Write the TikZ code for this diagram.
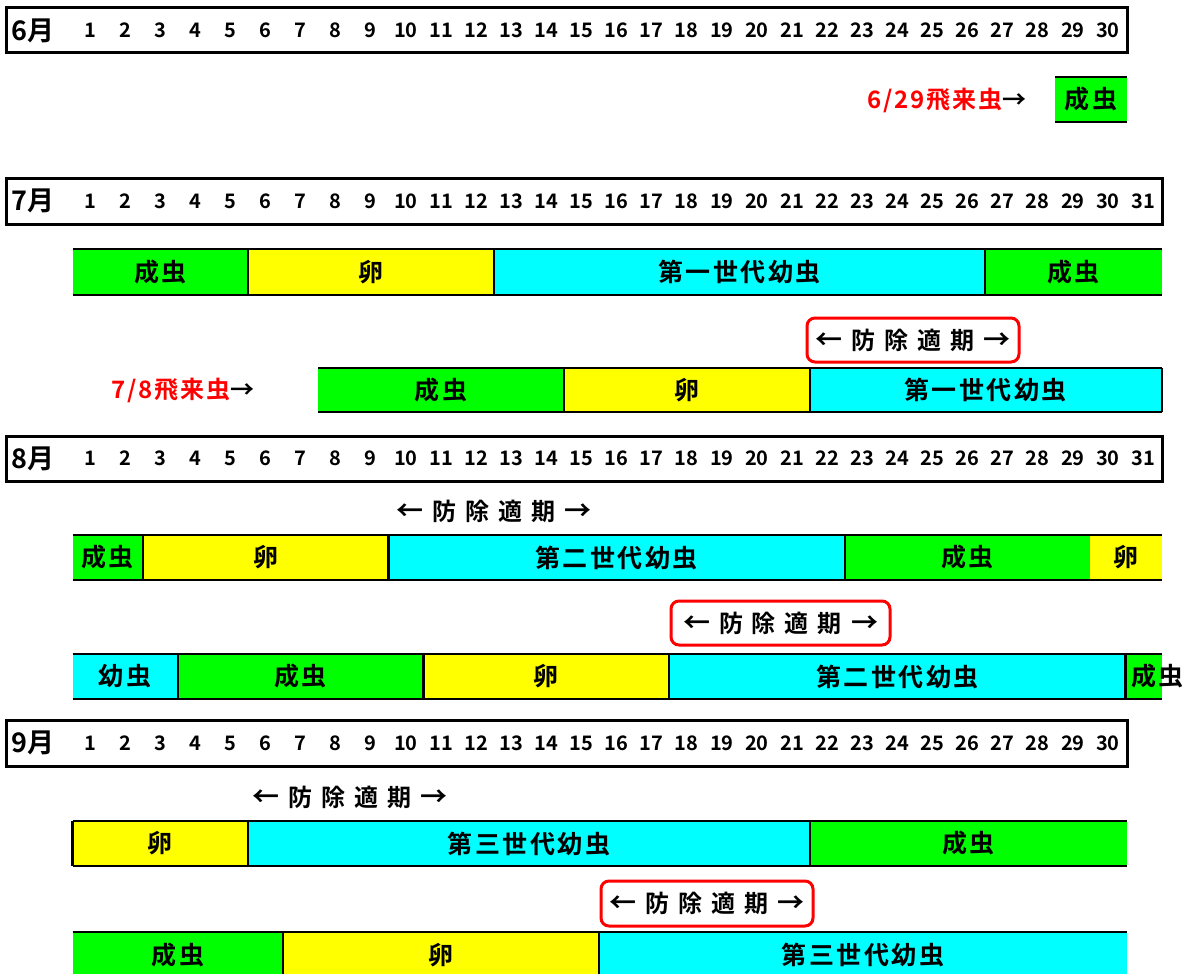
\documentclass[tikz,border=0pt]{standalone}
\usepackage{fontspec}
\setmainfont{Noto Sans CJK JP}[BoldFont={Noto Sans CJK JP Bold}]
\definecolor{adult}{HTML}{00FF00}
\definecolor{egg}{HTML}{FFFF00}
\definecolor{larva}{HTML}{00FFFF}
\definecolor{alert}{HTML}{FF0000}

% x position of the left edge of a day column
\newcommand\dayedge[1]{(72.5+(#1-1)*35.1)}

% one coloured stage cell: name, top, bottom, first day, end day, colour, text
\newcommand\stagecell[7]{%
  \pgfmathsetmacro\cxa{\dayedge{#4}}%
  \pgfmathsetmacro\cxb{\dayedge{#5}}%
  \fill[#6] (\cxa,#2) rectangle (\cxb,#3);
  \node[stagelbl] (#1) at ({(\cxa+\cxb)/2},{(#2+#3)/2}) {#7};
}
% top and bottom rules of a stage bar: top, bottom, first day, end day
\newcommand\barrules[4]{%
  \pgfmathsetmacro\cxa{\dayedge{#3}}%
  \pgfmathsetmacro\cxb{\dayedge{#4}}%
  \draw[rule] (\cxa,#1) -- (\cxb,#1);
  \draw[rule] (\cxa,#2) -- (\cxb,#2);
}
% vertical divider at the start of a day: top, bottom, day
\newcommand\stagesep[3]{%
  \pgfmathsetmacro\cxa{\dayedge{#3}}%
  \draw[divider] (\cxa,#1) -- (\cxa,#2);
}
% month header strip: name, top, bottom, right edge, month, number of days
\newcommand\monthstrip[6]{%
  \draw[frame] (6,#2) rectangle (#4,#3);
  \node[monthlbl] (#1) at (11,{(#2+#3)/2}) {#5月};
  \foreach \d in {1,...,#6}
    \node[daynum] (#1d\d) at ({90+(\d-1)*35.1},{(#2+#3)/2}) {\d};
}
\newcommand\periodtext{{\fontsize{27}{27}\selectfont←}\hspace{9pt}防\hspace{9pt}除\hspace{9pt}適\hspace{9pt}期\hspace{9pt}{\fontsize{27}{27}\selectfont→}}

\tikzset{
  frame/.style={line width=3pt},
  rule/.style={line width=2.6pt},
  divider/.style={line width=2.2pt},
  daynum/.style={font=\bfseries\fontsize{20}{20}\selectfont, inner sep=0pt},
  monthlbl/.style={font=\bfseries\fontsize{27}{27}\selectfont, anchor=west, inner sep=0pt},
  stagelbl/.style={font=\bfseries\fontsize{25}{25}\selectfont\addfontfeature{LetterSpace=10}, inner sep=0pt},
  periodlbl/.style={font=\bfseries\fontsize{24}{24}\selectfont, inner sep=0pt},
  periodbox/.style={periodlbl, draw=alert, line width=3pt, rounded corners=8pt,
    inner sep=0pt},
  arrival/.style={font=\bfseries\fontsize{24}{24}\selectfont\addfontfeature{LetterSpace=8},
    inner sep=0pt, anchor=east},
}

\begin{document}
\begin{tikzpicture}[x=1pt,y=-1pt]
\useasboundingbox (0,0) rectangle (1186,974);

% ---------------- June ----------------
\monthstrip{jun}{8}{53}{1127}{6}{30}
\stagecell{junA}{77}{122}{29}{31.04}{adult}{成虫}
\barrules{77}{122}{29}{31.04}
\node[arrival] (junArr) at (1027,100) {\textcolor{alert}{6/29飛来虫}→};

% ---------------- July ----------------
\monthstrip{jul}{178}{224}{1162}{7}{31}
% first brood line
\stagecell{julA1}{249}{295}{1}{6}{adult}{成虫}
\stagecell{julE1}{249}{295}{6}{13}{egg}{卵}
\stagecell{julL1}{249}{295}{13}{27}{larva}{第一世代幼虫}
\stagecell{julA2}{249}{295}{27}{32.03}{adult}{成虫}
\barrules{249}{295}{1}{32.03}
\stagesep{249}{295}{6}
\stagesep{249}{295}{13}
\stagesep{249}{295}{27}
\node[periodbox, minimum width=212, minimum height=44] (julP) at (913,340) {\periodtext};
% second arrival line
\node[arrival] (julArr) at (255,390) {\textcolor{alert}{7/8飛来虫}→};
\stagecell{julB1}{368}{412}{8}{15}{adult}{成虫}
\stagecell{julB2}{368}{412}{15}{22}{egg}{卵}
\stagecell{julB3}{368}{412}{22}{32.03}{larva}{第一世代幼虫}
\barrules{368}{412}{8}{32.03}
\stagesep{368}{412}{15}
\stagesep{368}{412}{22}
\stagesep{368}{412}{32.03}

% ---------------- August ----------------
\monthstrip{aug}{436}{481}{1162}{8}{31}
\node[periodlbl] (augP1) at (494,511) {\periodtext};
\stagecell{augA1}{535}{580}{1}{3}{adult}{成虫}
\stagecell{augE1}{535}{580}{3}{10}{egg}{卵}
\stagecell{augL1}{535}{580}{10}{23}{larva}{第二世代幼虫}
\stagecell{augA2}{535}{580}{23}{30}{adult}{成虫}
\stagecell{augE2}{535}{580}{30}{32.03}{egg}{卵}
\barrules{535}{580}{1}{32.03}
\stagesep{535}{580}{3}
\stagesep{535}{580}{10}
\stagesep{535}{580}{23}
\node[periodbox, minimum width=219, minimum height=44] (augP2) at (780.5,623) {\periodtext};
\stagecell{augB1}{654}{699}{1}{4}{larva}{幼虫}
\stagecell{augB2}{654}{699}{4}{11}{adult}{成虫}
\stagecell{augB3}{654}{699}{11}{18}{egg}{卵}
\stagecell{augB4}{654}{699}{18}{31}{larva}{第二世代幼虫}
\pgfmathsetmacro\cxa{\dayedge{31}}
\fill[adult] (\cxa,654) rectangle ({\dayedge{32.03}},699);
\node[stagelbl, anchor=west] (augB5) at (1131,676.5) {成虫};
\barrules{654}{699}{1}{32.03}
\stagesep{654}{699}{4}
\stagesep{654}{699}{11}
\stagesep{654}{699}{18}
\stagesep{654}{699}{31}

% ---------------- September ----------------
\monthstrip{sep}{720}{766}{1127}{9}{30}
\node[periodlbl] (sepP1) at (350,797) {\periodtext};
\stagecell{sepA1}{821}{866}{1}{6}{egg}{卵}
\stagecell{sepL1}{821}{866}{6}{22}{larva}{第三世代幼虫}
\stagecell{sepA2}{821}{866}{22}{31.04}{adult}{成虫}
\barrules{821}{866}{1}{31.04}
\stagesep{821}{866}{1}
\stagesep{821}{866}{6}
\stagesep{821}{866}{22}
\node[periodbox, minimum width=212, minimum height=45] (sepP2) at (707,903.5) {\periodtext};
\stagecell{sepB1}{932}{978}{1}{7}{adult}{成虫}
\stagecell{sepB2}{932}{978}{7}{16}{egg}{卵}
\stagecell{sepB3}{932}{978}{16}{31.04}{larva}{第三世代幼虫}
\barrules{932}{978}{1}{31.04}
\stagesep{932}{978}{7}
\stagesep{932}{978}{16}
\end{tikzpicture}
\end{document}
